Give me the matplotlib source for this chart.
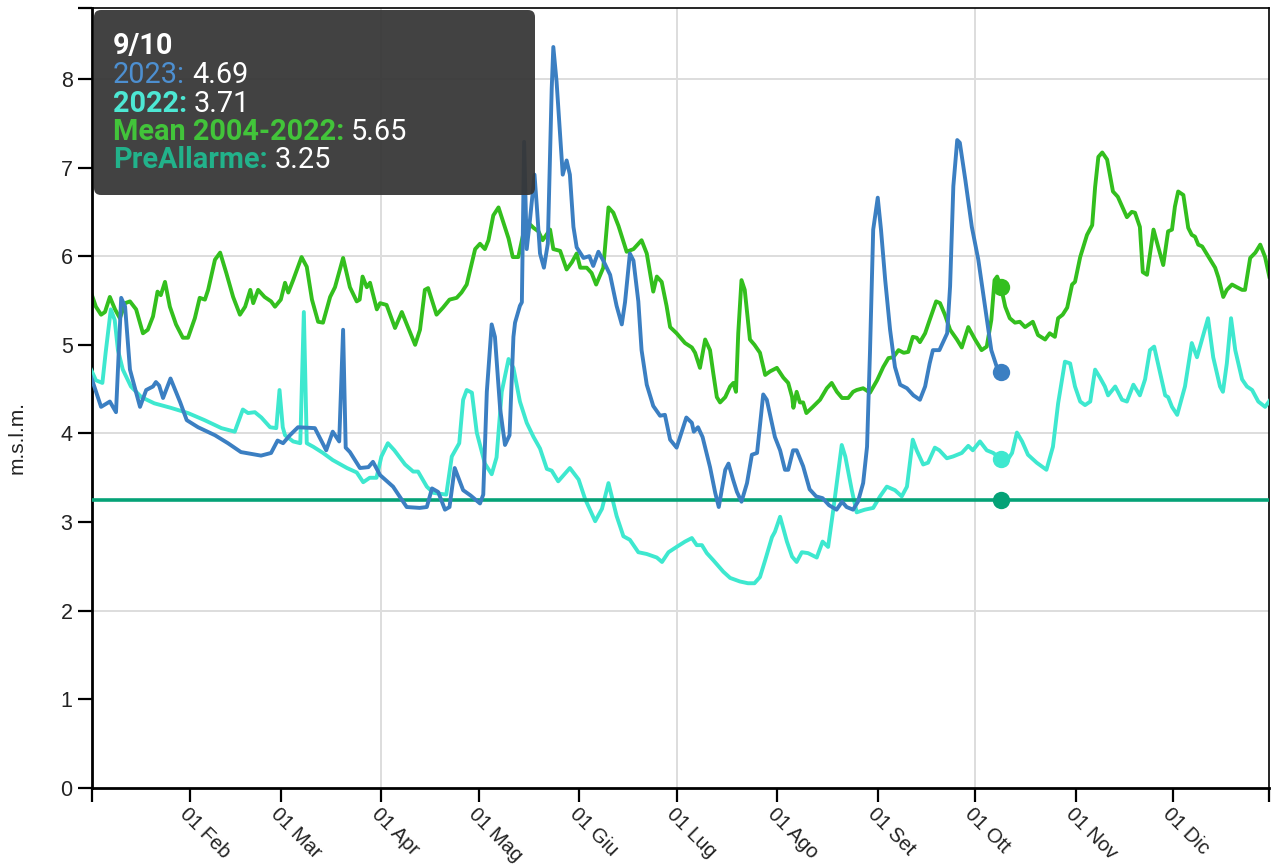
import matplotlib
matplotlib.use('Agg')
import matplotlib.pyplot as plt
import matplotlib.patches as mpatches
from matplotlib.transforms import IdentityTransform

# livello idrometrico giornaliero (m s.l.m.), asse x = giorno dell'anno (0 = 1 gen)
days_2023 = [0.5, 3.6, 6.3, 8.2, 9.8, 11, 12.5, 15.6, 17.5, 19.6, 20.5, 21.5, 22.7, 25, 28, 30, 33.5,
             38.7, 42.7, 46.7, 52.9, 56, 58, 59.7, 61.8, 64.3, 69.5, 73, 75, 77, 78.2, 79, 80.3, 83.4,
             86, 87.4, 89.6, 93.6, 97.8, 101.8, 104, 105.6, 107.5, 109.6, 111, 112.6, 115.2, 117.5,
             120.4, 121.4, 122.5, 124, 125, 126.6, 128.1, 129.5, 130.7, 131.2, 132.7, 133.3, 134,
             134.8, 135.8, 137.2, 137.9, 138.9, 140.1, 141.3, 142.5, 143, 144, 145.9, 147.1, 148.1,
             149.2, 150.2, 152.3, 154.1, 155.3, 156.9, 158.4, 160.5, 162.5, 164.1, 165.1, 166.6,
             167.7, 169.2, 170.2, 171.8, 173.8, 175.9, 177.4, 179, 181, 184, 185.7, 186.3, 187.6,
             189, 191.3, 192.9, 194, 196, 197, 198.4, 199.6, 201, 202.7, 204.2, 205.8, 207.7, 208.8,
             211.3, 212.9, 214.4, 215.4, 216.9, 218, 220, 222, 224, 226, 228, 230.3, 232, 233.4,
             235.4, 236.9, 238.5, 239.7, 240.6, 241.6, 243, 244, 245.3, 246.8, 248.3, 249.9, 252,
             254, 256, 257.6, 259, 260, 262, 263, 264.4, 265.3, 266.3, 267.5, 268.3, 270, 272, 274,
             275.5, 277, 278, 279.7, 281]
level_2023 = [4.64, 4.30, 4.36, 4.24, 5.53, 5.43, 4.72, 4.30, 4.49, 4.53, 4.58, 4.54, 4.40, 4.62, 4.35,
              4.15, 4.07, 3.98, 3.89, 3.79, 3.75, 3.78, 3.92, 3.89, 3.98, 4.07, 4.06, 3.81, 4.02, 3.91,
              5.17, 3.84, 3.79, 3.61, 3.62, 3.68, 3.53, 3.40, 3.17, 3.16, 3.17, 3.38, 3.34, 3.14, 3.17,
              3.61, 3.36, 3.30, 3.21, 3.31, 4.47, 5.23, 5.09, 4.28, 3.87, 3.98, 5.09, 5.25, 5.44, 5.48,
              7.29, 6.08, 6.41, 6.92, 6.57, 6.03, 5.87, 6.14, 7.89, 8.36, 7.97, 6.92, 7.08, 6.92, 6.33,
              6.10, 5.98, 6.00, 5.89, 6.05, 5.95, 5.79, 5.44, 5.23, 5.48, 6.03, 5.95, 5.49, 4.94, 4.55,
              4.31, 4.20, 4.21, 3.93, 3.84, 4.18, 4.12, 4.02, 4.07, 3.96, 3.62, 3.33, 3.17, 3.59, 3.66,
              3.48, 3.34, 3.23, 3.44, 3.76, 3.78, 4.44, 4.38, 3.96, 3.81, 3.59, 3.59, 3.81, 3.81, 3.63,
              3.37, 3.29, 3.27, 3.19, 3.14, 3.23, 3.17, 3.14, 3.23, 3.44, 3.85, 4.91, 6.30, 6.66, 6.30,
              5.73, 5.17, 4.75, 4.55, 4.51, 4.43, 4.38, 4.53, 4.79, 4.94, 4.94, 5.02, 5.13, 5.66, 6.79,
              7.31, 7.28, 6.86, 6.33, 5.96, 5.58, 5.20, 4.94, 4.75, 4.69]

days_2022 = [0.5, 2, 4, 5, 6.6, 7.8, 8.8, 10.3, 12.8, 16, 20, 25, 30.4, 35.5, 40.7, 44.8, 47.3, 48.9,
             51, 53, 55.7, 57.6, 58.6, 59.6, 60.3, 62.8, 65, 66.1, 67, 69, 72, 75, 79.4, 82.4, 84.4,
             86.4, 88.5, 90, 92, 94, 97.3, 99.8, 101.3, 104, 106, 110, 111.7, 114, 115.2, 116.3, 117.9,
             119.4, 121.9, 124, 125.5, 127.1, 129.2, 130.7, 132.7, 134.8, 136.9, 138.9, 141, 142.5,
             144.5, 148.1, 150.8, 152.8, 155.9, 158, 160, 162.5, 164.6, 166.6, 169.2, 171.8, 174.9,
             176.5, 178.5, 181, 183.6, 185.7, 187.2, 188.8, 190.3, 192.3, 195.4, 197.5, 200.5, 203,
             205, 206.7, 208.3, 210.4, 211.3, 212.9, 215, 216.6, 218, 219.6, 221.5, 224.2, 226, 227.7,
             229.3, 231.9, 233, 235, 236.5, 239, 241.6, 243.7, 245.8, 248.3, 250.4, 252, 253.8, 255,
             257, 258.5, 260.6, 262, 264.3, 266.2, 268.9, 270.9, 272.3, 274.5, 276.6, 278.6, 281, 283,
             284.4, 285.9, 287.5, 289.3, 292, 295, 297, 298.6, 300.7, 302.3, 303.8, 305.4, 306.9,
             308.5, 310, 311.5, 313, 314, 316.2, 318.3, 319.8, 321.8, 323.8, 325.4, 326.9, 328.2,
             331.6, 332.5, 333.7, 335.3, 337.7, 339.8, 341.4, 344.8, 346.4, 348.5, 349.4, 350.6,
             351.9, 353.2, 355.3, 356.8, 358.4, 360.3, 362.4, 364]
level_2022 = [4.72, 4.60, 4.57, 4.91, 5.40, 5.28, 4.94, 4.72, 4.53, 4.41, 4.34, 4.29, 4.23, 4.15, 4.06,
              4.02, 4.27, 4.23, 4.24, 4.18, 4.07, 4.06, 4.49, 4.07, 3.98, 3.91, 3.89, 5.37, 3.89, 3.85,
              3.78, 3.70, 3.61, 3.56, 3.45, 3.50, 3.50, 3.74, 3.89, 3.81, 3.65, 3.57, 3.57, 3.40, 3.33,
              3.31, 3.74, 3.89, 4.38, 4.49, 4.46, 4.01, 3.66, 3.54, 3.73, 4.47, 4.84, 4.74, 4.36, 4.12,
              3.96, 3.83, 3.60, 3.58, 3.46, 3.61, 3.48, 3.26, 3.01, 3.15, 3.44, 3.07, 2.84, 2.80, 2.66,
              2.64, 2.60, 2.55, 2.66, 2.72, 2.78, 2.82, 2.74, 2.74, 2.65, 2.57, 2.44, 2.37, 2.33, 2.31,
              2.31, 2.38, 2.57, 2.83, 2.89, 3.06, 2.78, 2.61, 2.55, 2.66, 2.65, 2.60, 2.78, 2.72, 3.14,
              3.87, 3.74, 3.36, 3.11, 3.14, 3.16, 3.29, 3.40, 3.36, 3.29, 3.40, 3.93, 3.81, 3.65, 3.67,
              3.84, 3.81, 3.72, 3.74, 3.78, 3.86, 3.81, 3.91, 3.81, 3.78, 3.71, 3.70, 3.78, 4.01, 3.91,
              3.76, 3.67, 3.59, 3.85, 4.34, 4.81, 4.79, 4.53, 4.36, 4.32, 4.36, 4.72, 4.63, 4.53, 4.43,
              4.53, 4.38, 4.36, 4.55, 4.43, 4.61, 4.94, 4.98, 4.43, 4.41, 4.30, 4.21, 4.53, 5.02, 4.86,
              5.30, 4.86, 4.53, 4.47, 4.79, 5.30, 4.94, 4.61, 4.53, 4.49, 4.36, 4.30, 4.38]

days_mean = [0.5, 2, 3.6, 4.8, 6.3, 7.9, 9.4, 11, 12.5, 14.4, 16.5, 18, 19.6, 21, 22, 23.3, 24.8, 26.7,
             28.8, 30.4, 32.5, 34, 35.6, 36.6, 38.7, 40.3, 42.2, 44.3, 46.4, 48, 49.6, 50.5, 52, 54,
             56, 57.2, 59, 60.3, 61.3, 62.8, 65.4, 67, 68.6, 70.5, 72, 74.2, 75.7, 78.2, 80.3, 82.4,
             83.3, 84.2, 85.5, 86.5, 88.6, 89.6, 91.6, 94.2, 96.3, 98.2, 100.4, 101.9, 103.4, 104.4,
             107, 109, 111, 113.2, 114.7, 116.3, 118.9, 120.4, 121.9, 123, 124.5, 126.1, 127.6, 129.2,
             130.5, 132.2, 134.6, 136.9, 138.4, 139.7, 142, 143, 145.1, 147.1, 148.7, 150.2, 151.3,
             153.3, 154.8, 156.2, 158.4, 160, 161.5, 163.1, 165.6, 167.7, 170.2, 171.8, 173.8, 174.9,
             176.4, 177.9, 179, 181, 183.6, 185.7, 186.7, 188.2, 189.8, 191.3, 192.3, 193.4, 194.4,
             196, 197.5, 198.5, 199.3, 200, 201, 202, 203.6, 205, 206.7, 208.3, 209.8, 211.9, 213.9,
             215.4, 216.6, 217, 218, 219, 220, 221, 223, 225.2, 227.3, 228.8, 230.4, 232, 233.9, 235.4,
             236.5, 238.5, 240.6, 242.8, 244.7, 246.3, 247.8, 249.4, 251, 252.4, 253.8, 255, 256,
             257.6, 259, 261, 262.2, 263.7, 265.3, 267.4, 268.9, 270.9, 273, 275, 276.6, 278, 279,
             279.8, 281, 282.3, 283.7, 285.3, 286.8, 288.4, 290.8, 292.4, 294.6, 296, 297.6, 298.6,
             300, 301.4, 302.9, 303.8, 305.4, 307.5, 309.1, 310, 311, 312.2, 313.7, 315.5, 317, 319.8,
             321.3, 322.3, 323.8, 324.7, 326, 328, 329.4, 331, 332.5, 333.7, 334.6, 335.6, 337.2,
             338.7, 339.8, 340.8, 341.8, 343, 344.5, 346, 347, 348, 349.5, 350.6, 352.2, 353.7, 355.3,
             356.2, 357.8, 359.4, 360.9, 362.4, 363.7]
level_mean = [5.59, 5.43, 5.34, 5.37, 5.54, 5.40, 5.30, 5.47, 5.49, 5.40, 5.13, 5.17, 5.32, 5.60, 5.56,
              5.71, 5.43, 5.23, 5.08, 5.08, 5.30, 5.53, 5.51, 5.62, 5.96, 6.04, 5.81, 5.54, 5.34, 5.43,
              5.62, 5.47, 5.62, 5.54, 5.49, 5.43, 5.51, 5.70, 5.59, 5.73, 5.99, 5.88, 5.51, 5.26, 5.25,
              5.54, 5.65, 5.98, 5.65, 5.49, 5.51, 5.77, 5.65, 5.70, 5.40, 5.47, 5.45, 5.19, 5.37, 5.20,
              5.00, 5.17, 5.62, 5.64, 5.34, 5.42, 5.51, 5.53, 5.59, 5.68, 6.08, 6.14, 6.08, 6.18, 6.46,
              6.55, 6.38, 6.20, 5.99, 5.99, 6.40, 6.32, 6.28, 6.18, 6.30, 6.08, 6.06, 5.85, 5.93, 6.03,
              5.87, 5.87, 5.81, 5.68, 5.87, 6.55, 6.49, 6.34, 6.05, 6.08, 6.18, 6.03, 5.60, 5.77, 5.71,
              5.44, 5.20, 5.13, 5.02, 4.97, 4.91, 4.74, 5.06, 4.94, 4.68, 4.41, 4.35, 4.41, 4.53, 4.57,
              4.47, 5.13, 5.73, 5.62, 5.06, 5.00, 4.91, 4.66, 4.70, 4.74, 4.63, 4.57, 4.41, 4.29, 4.47,
              4.35, 4.35, 4.23, 4.30, 4.38, 4.51, 4.57, 4.47, 4.40, 4.40, 4.47, 4.49, 4.51, 4.46, 4.60,
              4.75, 4.85, 4.86, 4.94, 4.91, 4.92, 5.09, 5.08, 5.03, 5.13, 5.28, 5.49, 5.47, 5.34, 5.17,
              5.06, 4.97, 5.20, 5.06, 4.94, 4.98, 5.28, 5.73, 5.77, 5.65, 5.43, 5.30, 5.25, 5.26, 5.20,
              5.26, 5.11, 5.06, 5.13, 5.09, 5.30, 5.34, 5.42, 5.68, 5.71, 5.99, 6.24, 6.35, 6.78, 7.12,
              7.17, 7.09, 6.73, 6.67, 6.44, 6.50, 6.49, 6.33, 5.82, 5.79, 6.30, 6.11, 5.90, 6.28, 6.30,
              6.56, 6.73, 6.69, 6.32, 6.24, 6.22, 6.13, 6.11, 6.02, 5.93, 5.87, 5.76, 5.54, 5.62, 5.68,
              5.65, 5.62, 5.62, 5.98, 6.04, 6.13, 5.99, 5.77]

prealarm_level = 3.25

# giorno evidenziato nel tooltip (9 ottobre)
hover_day = 281
hover_title = '9/10'
hover_names = ['2023:', '2022:', 'Mean 2004-2022:', 'PreAllarme:']
hover_values = [4.69, 3.71, 5.65, 3.25]

month_starts = [31, 59, 90, 120, 151, 181, 212, 243, 273, 304, 334]
month_labels = ['01 Feb', '01 Mar', '01 Apr', '01 Mag', '01 Giu', '01 Lug',
                '01 Ago', '01 Set', '01 Ott', '01 Nov', '01 Dic']
grid_days = [90, 181, 273]
grid_levels = [2, 4, 6, 8]

c_2023 = '#3b7fc2'
c_2022 = '#3ee8cf'
c_mean = '#33bf1e'
c_pre = '#05a277'

W, H = 1271, 866
fig = plt.figure(figsize=(W / 100, H / 100), dpi=100)
ax = fig.add_axes([92 / W, 1 - 788 / H, (1269 - 92) / W, (788 - 8) / H])

for g in grid_levels:
    ax.axhline(g, color='#dddddd', lw=1.4, zorder=0)
for g in grid_days:
    ax.axvline(g, color='#dddddd', lw=1.4, zorder=0)

ax.plot(days_mean, level_mean, color=c_mean, lw=2.8, solid_joinstyle='round', zorder=2)
ax.plot(days_2022, level_2022, color=c_2022, lw=2.8, solid_joinstyle='round', zorder=3)
ax.plot(days_2023, level_2023, color=c_2023, lw=2.8, solid_joinstyle='round', zorder=4)
ax.axhline(prealarm_level, color=c_pre, lw=2.6, zorder=3)

# pallini sul giorno del tooltip
for val, col in zip(hover_values, [c_2023, c_2022, c_mean, c_pre]):
    ax.plot([hover_day], [val], 'o', color=col, ms=12.5, mec='none', zorder=6)

ax.set_xlim(0.8, 363.6)
ax.set_ylim(0, 8.8)
ax.set_yticks(range(0, 9))
ax.set_xticks(month_starts)
ax.set_xticklabels(month_labels, rotation=-45, ha='left', va='top', rotation_mode='anchor',
                   fontfamily='Liberation Sans', fontsize=14.5, color='#222222')
for lab in ax.get_yticklabels():
    lab.set_fontfamily('Liberation Sans')
    lab.set_fontsize(15.5)
    lab.set_color('#222222')
ax.set_xticks([0.8, 363.6], minor=True)
ax.set_yticks([8.8], minor=True)
ax.tick_params(which='both', length=10, width=1.6, color='black', pad=4)
ax.tick_params(axis='x', which='major', pad=2)

for side in ['left', 'bottom']:
    ax.spines[side].set_linewidth(2.0)
for side in ['top', 'right']:
    ax.spines[side].set_linewidth(1.2)

fig.text(17 / W, 1 - 437 / H, 'm.s.l.m.', rotation=90, ha='center', va='center',
         fontfamily='Liberation Sans', fontsize=15, color='#222222')

# tooltip
box = mpatches.FancyBboxPatch((94, H - 195), 441, 185, boxstyle='round,pad=0,rounding_size=7',
                              transform=IdentityTransform(), facecolor='#363636', alpha=0.94,
                              edgecolor='none', zorder=10)
fig.patches.append(box)

tip_font = dict(fontfamily=['Roboto', 'DejaVu Sans'], fontsize=20.8)
fig.text(113 / W, 1 - 54 / H, hover_title, color='white', fontweight='bold', va='baseline',
         zorder=11, **tip_font)
name_colors = ['#4d8fd0', '#4de8d4', '#42c43a', '#22b28b']
name_weights = ['normal', 'bold', 'bold', 'bold']
baselines = [83, 112, 140, 168]
for name, val, col, wt, yb in zip(hover_names, hover_values, name_colors, name_weights, baselines):
    t = fig.text(113 / W, 1 - yb / H, name, color=col, fontweight=wt, va='baseline',
                 zorder=11, **tip_font)
    fig.add_artist(plt.Annotation('{:.2f}'.format(val), xy=(1, 0), xycoords=t,
                                  xytext=(5, 0), textcoords='offset points',
                                  ha='left', va='bottom', color='white', zorder=11, **tip_font))

fig.savefig('out.png', dpi=100)
